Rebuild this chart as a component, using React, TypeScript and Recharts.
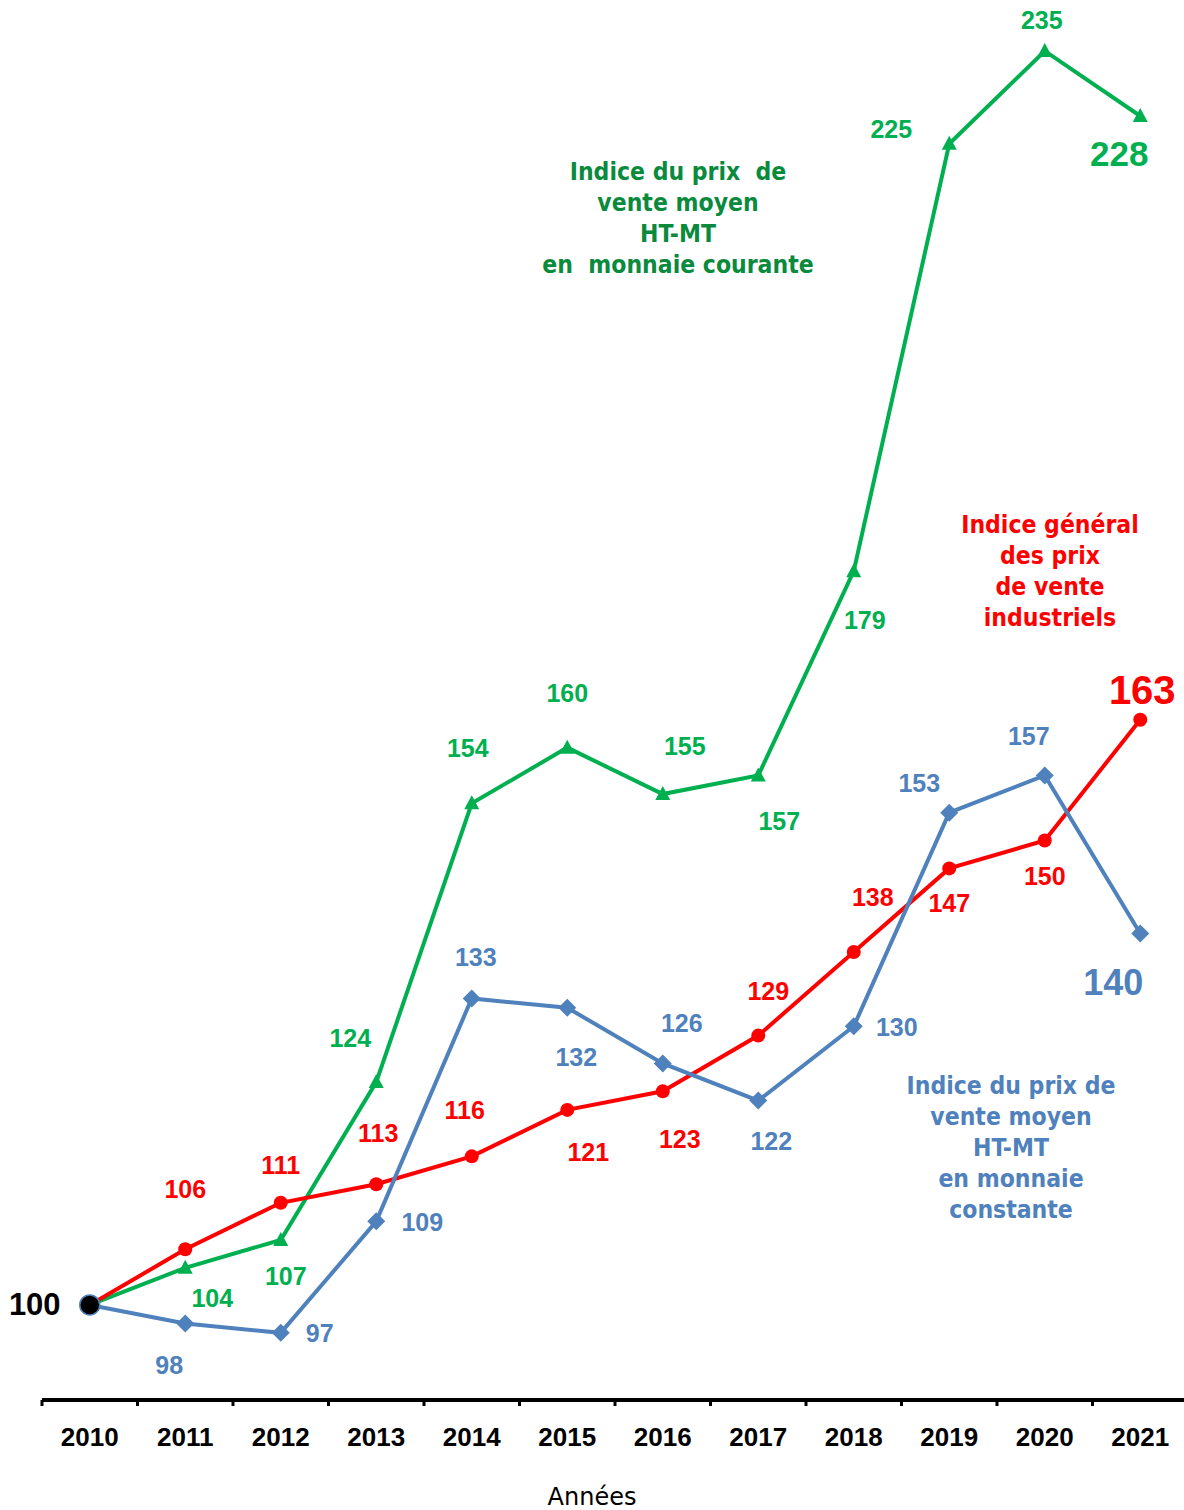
import React from 'react';
import { LineChart, Line, XAxis, YAxis, LabelList } from 'recharts';

const years = ['2010', '2011', '2012', '2013', '2014', '2015', '2016', '2017', '2018', '2019', '2020', '2021'];
const courante = [100, 104, 107, 124, 154, 160, 155, 157, 179, 225, 235, 228];
const industriels = [100, 106, 111, 113, 116, 121, 123, 129, 138, 147, 150, 163];
const constante = [100, 98, 97, 109, 133, 132, 126, 122, 130, 153, 157, 140];

const data = years.map((year, i) => ({
  year,
  courante: courante[i],
  industriels: industriels[i],
  constante: constante[i],
}));

const GREEN = '#00b050';
const GREEN_DARK = '#0a8a3c';
const RED = '#ff0000';
const BLUE = '#4f81bd';

// label placement relative to each point [dx, dy, fontSize]
const greenLabels: (number[] | null)[] = [
  null, [27, 30, 25], [5, 36, 25], [-26, -44, 25], [-4, -55, 25], [0, -55, 25],
  [22, -48, 25], [21, 45, 25], [11, 49, 25], [-58, -15, 25], [-3, -31, 25], [-21, 38, 35],
];
const redLabels: (number[] | null)[] = [
  null, [0, -60, 25], [0, -38, 25], [2, -51, 25], [-7, -46, 25], [21, 42, 25],
  [17, 48, 25], [10, -45, 25], [19, -55, 25], [0, 35, 25], [0, 35, 25], [2, -30, 40],
];
const blueLabels: (number[] | null)[] = [
  [-55, 0, 31], [-16, 41, 25], [39, 0, 25], [46, 1, 25], [4, -41, 25], [9, 49, 25],
  [19, -40, 25], [13, 40, 25], [43, 1, 25], [-30, -30, 25], [-16, -40, 25], [-27, 49, 36],
];

const W = 1184;
const H = 1510;
const CHART_W = 1188;
const LEFT = 42;
const AXIS_Y = 1400;

const makeLabel = (offsets: (number[] | null)[], color: string) => (props: any) => {
  const { index, value } = props;
  const px = props.x ?? props.viewBox?.x;
  const py = props.y ?? props.viewBox?.y;
  const o = offsets[index];
  if (!o || px == null) return null;
  return (
    <text
      x={px + o[0]}
      y={py + o[1]}
      textAnchor="middle"
      dominantBaseline="central"
      fontFamily="'Liberation Sans', Arial, sans-serif"
      fontWeight="bold"
      fontSize={o[2]}
      fill={index === 0 ? '#000' : color}
    >
      {value}
    </text>
  );
};

const triangleDot = (props: any) => {
  const { cx, cy, index } = props;
  if (index === 0) return <g key={`g${index}`} />;
  return <path key={`g${index}`} d={`M${cx},${cy - 8} L${cx + 7.5},${cy + 6} L${cx - 7.5},${cy + 6} Z`} fill={GREEN} />;
};

const circleDot = (props: any) => {
  const { cx, cy, index } = props;
  if (index === 0) return <g key={`r${index}`} />;
  return <circle key={`r${index}`} cx={cx} cy={cy} r={7} fill={RED} />;
};

const diamondDot = (props: any) => {
  const { cx, cy, index } = props;
  if (index === 0)
    return <circle key={`b${index}`} cx={cx} cy={cy} r={10} fill="#000" stroke={BLUE} strokeWidth={1.5} />;
  return <path key={`b${index}`} d={`M${cx},${cy - 9} L${cx + 9},${cy} L${cx},${cy + 9} L${cx - 9},${cy} Z`} fill={BLUE} />;
};

const YearTick = (props: any) => {
  const { x, payload } = props;
  const half = (CHART_W - LEFT) / years.length / 2;
  return (
    <g>
      <line x1={x - half} y1={AXIS_Y} x2={x - half} y2={AXIS_Y + 6} stroke="#000" strokeWidth={3} />
      <text
        x={x}
        y={1437}
        textAnchor="middle"
        dominantBaseline="central"
        fontFamily="'Liberation Sans', Arial, sans-serif"
        fontWeight="bold"
        fontSize={26}
        fill="#000"
      >
        {payload.value}
      </text>
    </g>
  );
};

const noteStyle: React.CSSProperties = {
  position: 'absolute',
  textAlign: 'center',
  fontFamily: "'DejaVu Sans Condensed', 'DejaVu Sans', sans-serif",
  fontWeight: 'bold',
  fontSize: 24.5,
  lineHeight: '31px',
  whiteSpace: 'pre',
};

export default function App() {
  return (
    <div style={{ position: 'absolute', left: 0, top: 0, width: W, height: H, overflow: 'hidden', background: '#fff' }}>
      <LineChart width={CHART_W} height={H} data={data} margin={{ top: 10, right: 0, bottom: 0, left: LEFT }}>
        <XAxis
          dataKey="year"
          scale="band"
          height={110}
          axisLine={{ stroke: '#000', strokeWidth: 4 }}
          tickLine={false}
          tick={<YearTick />}
          interval={0}
        />
        <YAxis hide domain={[89.77, 239.41]} type="number" allowDataOverflow />
        <Line dataKey="courante" stroke={GREEN} strokeWidth={4} dot={triangleDot} isAnimationActive={false}>
          <LabelList dataKey="courante" content={makeLabel(greenLabels, GREEN)} />
        </Line>
        <Line dataKey="industriels" stroke={RED} strokeWidth={4} dot={circleDot} isAnimationActive={false}>
          <LabelList dataKey="industriels" content={makeLabel(redLabels, RED)} />
        </Line>
        <Line dataKey="constante" stroke={BLUE} strokeWidth={4} dot={diamondDot} isAnimationActive={false}>
          <LabelList dataKey="constante" content={makeLabel(blueLabels, BLUE)} />
        </Line>
      </LineChart>
      <div style={{ ...noteStyle, left: 478, width: 400, top: 156, color: GREEN_DARK }}>
        {'Indice du prix  de\nvente moyen\nHT-MT\nen  monnaie courante'}
      </div>
      <div style={{ ...noteStyle, left: 900, width: 300, top: 509, color: RED }}>
        {'Indice général\ndes prix\nde vente\nindustriels'}
      </div>
      <div style={{ ...noteStyle, left: 861, width: 300, top: 1070, color: BLUE }}>
        {'Indice du prix de\nvente moyen\nHT-MT\nen monnaie\nconstante'}
      </div>
      <div
        style={{
          position: 'absolute',
          left: 492,
          width: 200,
          top: 1482,
          textAlign: 'center',
          fontFamily: "'DejaVu Sans', sans-serif",
          fontSize: 24,
          lineHeight: '30px',
          color: '#000',
        }}
      >
        Années
      </div>
    </div>
  );
}
